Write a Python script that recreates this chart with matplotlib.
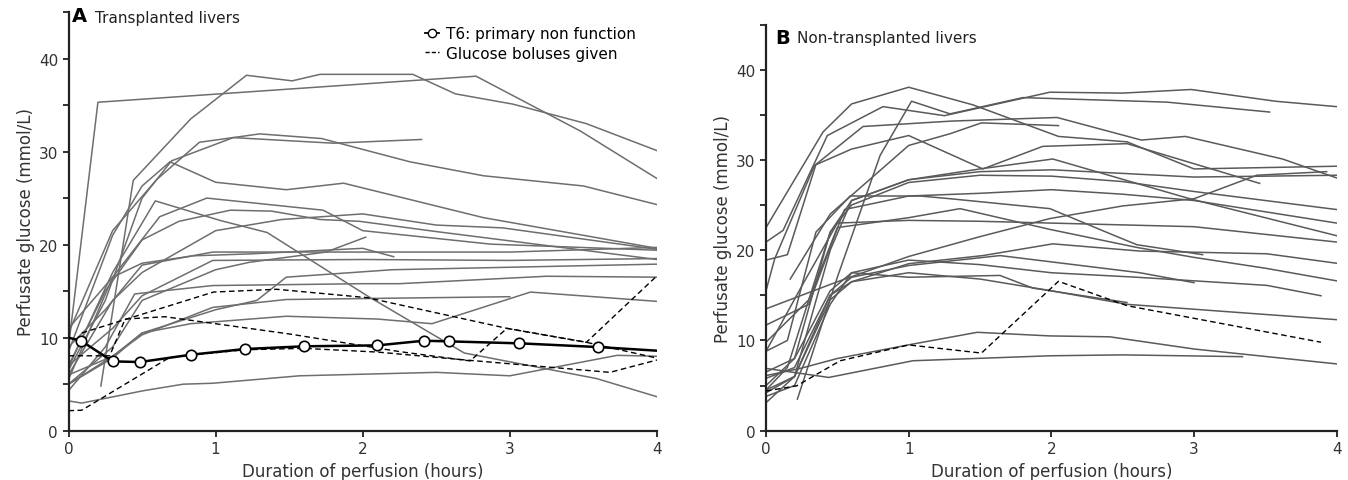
import matplotlib.pyplot as plt
from matplotlib.ticker import MultipleLocator

######################## DATA ########################

# Panel A - transplanted livers, grey individual perfusions (hours, mmol/L)
a_grey = [
    ([0, 0.2, 2.77, 3.48, 4.0], [9, 35.3, 38.1, 32.2, 27.1]),
    ([0.22, 0.44, 0.83, 1.21, 1.52, 1.71, 2.34, 2.63, 3.02, 3.52, 4.0],
     [4.8, 26.9, 33.5, 38.2, 37.6, 38.3, 38.3, 36.2, 35.1, 33.0, 30.1]),
    ([0, 0.3, 0.6, 0.89, 1.3, 1.72, 2.32, 2.82, 3.5, 4.0],
     [10.5, 21.5, 27, 31.0, 31.9, 31.4, 28.9, 27.4, 26.3, 24.3]),
    ([0, 0.25, 0.5, 0.7, 1.12, 1.8, 2.4], [6.5, 14, 25, 29, 31.5, 30.9, 31.3]),
    ([0, 0.3, 0.5, 0.69, 1.0, 1.48, 1.87, 2.82, 4.0],
     [8.5, 21, 26.3, 28.9, 26.7, 25.9, 26.6, 22.9, 19.6]),
    ([0, 0.3, 0.62, 0.94, 1.73, 2.0, 2.87, 4.0],
     [5.5, 16.5, 23, 25.0, 23.7, 21.5, 20.05, 19.4]),
    ([0, 0.25, 0.5, 0.75, 1.1, 1.38, 1.71, 1.98, 2.5, 4.0],
     [7, 15, 20.5, 22.5, 23.7, 23.6, 22.7, 22.5, 21.4, 18.4]),
    ([0, 0.3, 0.5, 1.0, 1.45, 2.0, 2.5, 2.95, 4.0],
     [6, 14, 17, 21.5, 22.7, 23.3, 22.1, 21.8, 19.5]),
    ([0, 0.3, 0.59, 1.03, 1.35, 2.03, 2.69, 3.59, 4.0],
     [6.8, 17, 24.7, 22.6, 21.3, 14.5, 8.35, 5.6, 3.65]),
    ([0, 0.3, 0.5, 1.0, 1.23, 1.75, 2.02], [5, 9, 14, 17.3, 18.1, 19.2, 20.8]),
    ([0, 0.3, 0.5, 0.85, 1.23, 2.0, 2.21], [11, 16.5, 18, 18.8, 19.0, 19.6, 18.7]),
    ([0, 0.25, 0.5, 0.98, 2.0, 3.0, 4.0], [9, 13, 17.8, 19.2, 19.2, 19.2, 19.7]),
    ([0, 0.3, 0.5, 0.98, 2.0, 3.0, 4.0], [7, 11, 14.5, 18.3, 18.4, 18.3, 18.5]),
    ([0, 0.3, 0.5, 1.0, 1.28, 1.48, 2.2, 4.0], [5, 8, 10.5, 13.0, 14.0, 16.5, 17.3, 17.9]),
    ([0, 0.25, 0.45, 0.98, 2.0, 2.25, 3.25, 4.0], [4.3, 9, 14.7, 15.6, 15.8, 15.8, 16.6, 16.5]),
    ([0, 0.3, 0.5, 0.98, 1.48, 3.0], [6, 8, 10.3, 13.25, 14.1, 14.4]),
    ([0, 0.3, 0.5, 0.83, 1.48, 2.1, 2.47, 3.14, 4.0],
     [5, 7.8, 10.5, 11.5, 12.3, 12.0, 11.5, 14.9, 13.9]),
    ([0, 0.09, 0.51, 0.78, 0.98, 1.57, 2.5, 3.0, 3.73, 4.0],
     [3.2, 2.97, 4.3, 5.0, 5.1, 5.9, 6.27, 5.9, 8.1, 8.0]),
]

# Panel A - glucose boluses given (dashed)
a_bolus = [
    ([0.09, 0.985, 1.415, 2.03, 2.98, 3.52, 4.0], [10.5, 14.9, 15.2, 14.3, 11.0, 9.5, 16.65]),
    ([0, 0.28, 0.385, 0.656, 1.5, 2.25, 2.73, 2.98, 3.52, 4.0],
     [8.05, 8.05, 12.0, 12.25, 10.4, 8.5, 7.5, 11.0, 9.5, 7.8]),
    ([0, 0.09, 0.69, 1.2, 1.6, 2.1, 2.7, 3.68, 4.0],
     [2.15, 2.2, 7.9, 8.7, 8.85, 8.45, 7.6, 6.27, 7.6]),
]

# Panel A - T6, primary non function
t6_time = [0, 0.085, 0.30, 0.486, 0.833, 1.2, 1.6, 2.1, 2.415, 2.585, 3.065, 3.6, 4.0]
t6_gluc = [10.0, 9.67, 7.45, 7.38, 8.17, 8.78, 9.07, 9.17, 9.67, 9.6, 9.39, 8.99, 8.6]

# Panel B - non-transplanted livers
b_grey = [
    ([0, 0.4, 0.6, 1.0, 1.45, 2.05, 2.53, 3.0, 4.0],
     [22.5, 33.1, 36.2, 38.05, 36.1, 32.6, 32.0, 29.0, 29.3]),
    ([0, 0.12, 0.43, 0.82, 1.25, 1.99, 2.5, 2.98, 3.57, 4.0],
     [20.9, 22.2, 32.7, 35.9, 34.9, 37.5, 37.4, 37.8, 36.5, 35.9]),
    ([0, 0.15, 0.35, 0.68, 1.3, 2.04, 2.63, 2.94, 3.62, 4.0],
     [18.9, 19.5, 29.5, 33.7, 34.3, 34.7, 32.2, 32.6, 30.1, 28.0]),
    ([0.22, 0.5, 0.8, 1.02, 1.29, 1.8, 2.81, 3.53],
     [3.5, 17, 30.5, 36.5, 35.1, 36.9, 36.4, 35.3]),
    ([0, 0.06, 0.34, 0.6, 1.0, 1.52, 1.94, 2.53, 3.46],
     [15.5, 19, 29.4, 31.2, 32.7, 29.0, 31.5, 31.8, 27.4]),
    ([0.17, 0.45, 1.0, 1.29, 1.51, 2.05], [16.8, 24, 31.6, 32.9, 34.1, 33.8]),
    ([0, 0.15, 0.35, 0.59, 1.08, 1.29, 1.99, 2.43, 2.6, 3.06],
     [8.8, 10, 22, 26.0, 26.0, 25.7, 24.6, 21.7, 20.6, 19.5]),
    ([0, 0.15, 0.45, 0.6, 1.0, 1.5, 2.01, 3.0, 4.0],
     [4.5, 7, 22, 25.5, 27.8, 28.7, 28.9, 28.1, 28.3]),
    ([0, 0.5, 1.0, 1.5, 1.99, 2.5, 3.0, 3.44, 3.93],
     [13.5, 16.5, 19.3, 21.5, 23.5, 24.9, 25.7, 28.3, 28.7]),
    ([0, 0.2, 0.45, 0.6, 1.0, 1.5, 2.01, 2.62, 2.97, 4.0],
     [3.1, 6, 20, 25.5, 27.8, 29.0, 30.1, 27.3, 25.7, 21.6]),
    ([0, 0.2, 0.45, 0.6, 1.0, 1.5, 2.0, 2.5, 3.0, 4.0],
     [5, 8, 22, 25, 27.5, 28.3, 28.2, 27.6, 26.5, 24.5]),
    ([0, 0.3, 0.55, 1.0, 1.5, 2.0, 2.5, 3.0, 4.0],
     [11.7, 14, 24.5, 26, 26.3, 26.7, 26.2, 25.5, 23.0]),
    ([0, 0.3, 0.5, 1.0, 1.36, 1.99, 2.6, 3.0, 3.5, 4.0],
     [9.8, 14.5, 22.5, 23.6, 24.6, 22.3, 20.3, 19.2, 18.0, 16.6]),
    ([0, 0.25, 0.5, 1.0, 1.5, 2.0, 2.5, 3.0, 4.0],
     [8.8, 16, 23, 23.3, 23.2, 23.0, 22.8, 22.6, 20.9]),
    ([0, 0.2, 0.45, 0.6, 1.0, 1.52, 2.01, 2.62, 3.51, 4.0],
     [4.2, 6, 14.5, 16.5, 18.5, 19.4, 20.7, 19.9, 19.6, 18.55]),
    ([0, 0.2, 0.45, 0.6, 1.0, 1.64, 2.62, 3.0],
     [5.8, 7, 15, 17, 18.3, 19.4, 17.5, 16.4]),
    ([0, 0.2, 0.45, 0.6, 1.0, 1.5, 2.0, 2.6, 3.51, 3.89],
     [3.8, 5, 14, 17.5, 18.9, 18.4, 17.5, 17.0, 16.1, 14.95]),
    ([0, 0.2, 0.45, 0.6, 1.0, 1.5, 2.0, 2.53, 4.0],
     [4.5, 6, 15, 16.5, 17.5, 16.8, 15.5, 14.0, 12.3]),
    ([0, 0.2, 0.45, 0.6, 1.0, 1.64, 1.87, 2.53],
     [6.5, 8, 15.5, 17.5, 17.0, 17.2, 15.8, 14.2]),
    ([0, 0.44, 1.03, 1.99, 2.5, 3.34], [6.9, 5.9, 7.75, 8.3, 8.4, 8.2]),
    ([0, 0.24, 0.5, 1.03, 1.48, 1.99, 2.41, 3.0, 4.0],
     [6.1, 6.9, 8.0, 9.6, 10.9, 10.5, 10.4, 9.05, 7.4]),
]

b_bolus = [
    ([0, 0.215, 0.52, 1.0, 1.51, 2.05, 2.53, 3.89],
     [4.4, 4.97, 7.75, 9.5, 8.6, 16.55, 13.85, 9.8]),
]

################################## PLOT ##################################

W, H = 1348, 481
fig = plt.figure(figsize=(W / 100, H / 100), dpi=100)

axA = fig.add_axes([68.5 / W, 1 - 431.7 / H, 588.5 / W, (431.7 - 13) / H])
axB = fig.add_axes([766 / W, 1 - 431.7 / H, 570.7 / W, (431.7 - 25.5) / H])

grey = '#6e6e6e'

for t, v in a_grey:
    axA.plot(t, v, color=grey, lw=1.1, zorder=2)
for t, v in a_bolus:
    axA.plot(t, v, color='black', lw=1.0, ls=(0, (4, 2.5)), zorder=3)
axA.plot(t6_time, t6_gluc, color='black', lw=1.8, marker='o', markersize=7.5,
         markerfacecolor='white', markeredgecolor='black', markeredgewidth=1.2,
         markevery=list(range(1, len(t6_time) - 1)), zorder=4)

for t, v in b_grey:
    axB.plot(t, v, color='#5a5a5a', lw=1.1, zorder=2)
for t, v in b_bolus:
    axB.plot(t, v, color='black', lw=1.0, ls=(0, (4, 2.5)), zorder=3)

for ax in (axA, axB):
    ax.set_xlim(0, 4)
    ax.set_ylim(0, 45)
    ax.set_xticks([0, 1, 2, 3, 4])
    ax.set_yticks([0, 10, 20, 30, 40])
    ax.yaxis.set_minor_locator(MultipleLocator(5))
    for s in ('top', 'right'):
        ax.spines[s].set_visible(False)
    for s in ('left', 'bottom'):
        ax.spines[s].set_linewidth(1.6)
        ax.spines[s].set_color('#222222')
    ax.tick_params(which='both', direction='out', width=1.3, color='#222222',
                   labelsize=11, labelcolor='#333333')
    ax.tick_params(which='major', length=4)
    ax.tick_params(which='minor', length=4)
    ax.set_xlabel('Duration of perfusion (hours)', fontsize=12, color='#333333', labelpad=4)
    ax.set_ylabel('Perfusate glucose (mmol/L)', fontsize=12, color='#333333', labelpad=3)
    ax.margins(0)

# panel headings
fig.text(72 / W, 1 - 17 / H, 'A', fontsize=14, fontweight='bold', va='center', ha='left')
fig.text(95 / W, 1 - 18 / H, 'Transplanted livers', fontsize=11, va='center', ha='left',
         color='#222222')
fig.text(775 / W, 1 - 38 / H, 'B', fontsize=14, fontweight='bold', va='center', ha='left')
fig.text(797 / W, 1 - 39 / H, 'Non-transplanted livers', fontsize=11, va='center', ha='left',
         color='#222222')

# legend
h1, = axA.plot([], [], color='black', lw=1.3, marker='o', markersize=6,
               markerfacecolor='white', markeredgecolor='black')
h2, = axA.plot([], [], color='black', lw=1.0, ls=(0, (3, 1.5)))
axA.legend([h1, h2], ['T6: primary non function', 'Glucose boluses given'],
           loc='upper left', bbox_to_anchor=((425 - 68.5) / 588.5, (431.7 - 27) / 418.7),
           frameon=False, fontsize=11, handlelength=0.9, handletextpad=0.5,
           labelspacing=0.3, borderaxespad=0, borderpad=0)

fig.savefig('out.png', dpi=100)
